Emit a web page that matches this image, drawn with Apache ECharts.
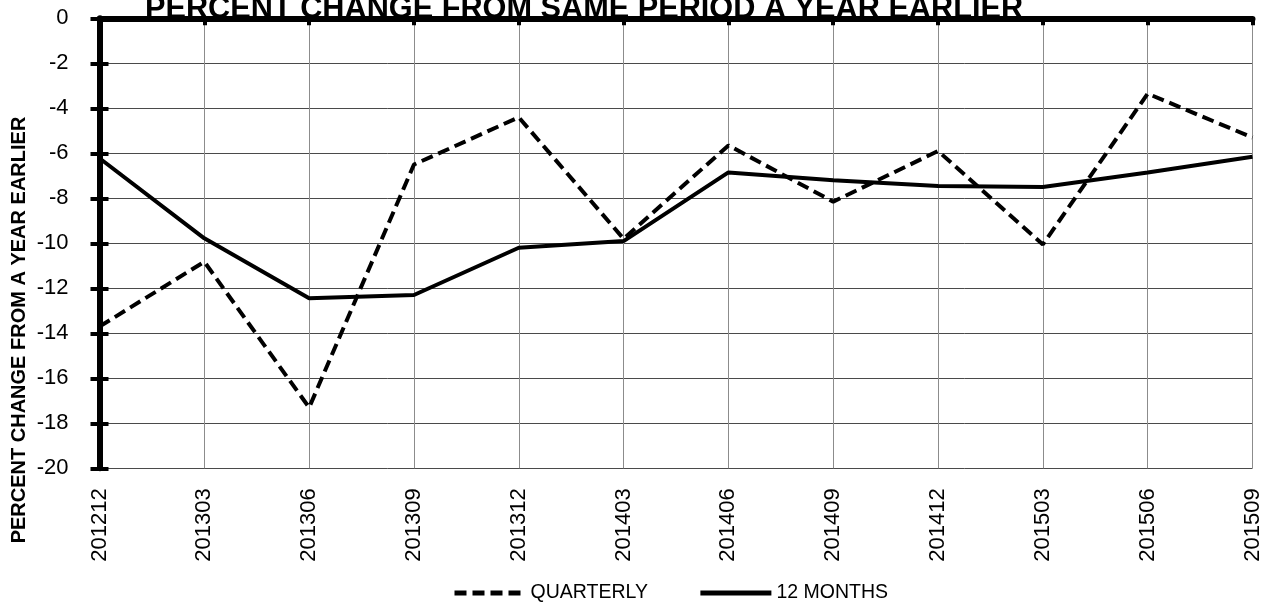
<!DOCTYPE html>
<html>
<head>
<meta charset="utf-8">
<script src="https://cdn.jsdelivr.net/npm/echarts@6/dist/echarts.min.js"></script>
<style>
    html, body { margin: 0; padding: 0; background: #fff; }
    #main { width: 1269px; height: 605px; }
</style>
</head>
<body>
<div id="main"></div>
<script>
var periods = ['201212', '201303', '201306', '201309', '201312', '201403', '201406', '201409', '201412', '201503', '201506', '201509'];
var quarterly = [-13.7, -10.82, -17.3, -6.5, -4.4, -9.8, -5.65, -8.15, -5.9, -10.05, -3.35, -5.3];
var twelveMonths = [-6.22, -9.78, -12.44, -12.3, -10.2, -9.9, -6.85, -7.2, -7.45, -7.5, -6.85, -6.15];

~function () {
    var myChart = echarts.init(document.getElementById('main'));
    var font = 'Liberation Sans, Arial, sans-serif';
    var option = {
        animation: false,
        title: {
            text: 'PERCENT CHANGE FROM SAME PERIOD A YEAR EARLIER',
            left: 145,
            top: -6,
            padding: 0,
            textStyle: {fontFamily: font, fontSize: 30.7, fontWeight: 'bold', color: '#000'}
        },
        graphic: [{
            type: 'text',
            x: 19,
            y: 330,
            rotation: Math.PI / 2,
            style: {
                text: 'PERCENT CHANGE FROM A YEAR EARLIER',
                font: 'bold 20px Liberation Sans, Arial, sans-serif',
                fill: '#000',
                align: 'center',
                verticalAlign: 'middle'
            }
        }],
        legend: {
            bottom: 2,
            left: 452,
            padding: 0,
            itemWidth: 71,
            itemHeight: 12,
            itemGap: 50,
            textStyle: {fontFamily: font, fontSize: 19.5, color: '#000'},
            itemStyle: {opacity: 0},
            lineStyle: {width: 5},
            data: ['QUARTERLY', '12 MONTHS']
        },
        grid: {left: 99.5, right: 16.5, top: 18.3, bottom: 136.7, containLabel: false},
        xAxis: [
            {
                type: 'category',
                position: 'bottom',
                boundaryGap: false,
                data: periods,
                axisLine: {show: false},
                axisTick: {show: false},
                axisLabel: {rotate: 90, margin: 20, fontFamily: font, fontSize: 22, color: '#000'},
                splitLine: {show: true, lineStyle: {color: '#8c8c8c', width: 1}}
            },
            {
                type: 'category',
                position: 'top',
                boundaryGap: false,
                data: periods,
                axisLine: {show: true, lineStyle: {color: '#000', width: 6}},
                axisTick: {show: true, inside: true, length: 7, lineStyle: {color: '#000', width: 4}},
                axisLabel: {show: false},
                splitLine: {show: false}
            }
        ],
        yAxis: [
            {
                type: 'value',
                min: -20,
                max: 0,
                interval: 2,
                axisLine: {show: true, lineStyle: {color: '#000', width: 6}},
                axisTick: {show: true, length: 9, lineStyle: {color: '#000', width: 4}},
                axisLabel: {margin: 31, fontFamily: font, fontSize: 22, color: '#000'},
                splitLine: {show: true, lineStyle: {color: '#4a4a4a', width: 1}}
            },
            {
                type: 'value',
                position: 'left',
                min: -20,
                max: 0,
                interval: 2,
                axisLine: {show: false},
                axisTick: {show: true, inside: true, length: 9, lineStyle: {color: '#000', width: 4}},
                axisLabel: {show: false},
                splitLine: {show: false}
            }
        ],
        series: [
            {
                name: 'QUARTERLY',
                type: 'line',
                symbol: 'none',
                data: quarterly,
                lineStyle: {color: '#000', width: 4, type: [12, 6]},
                itemStyle: {color: '#000'}
            },
            {
                name: '12 MONTHS',
                type: 'line',
                symbol: 'none',
                data: twelveMonths,
                lineStyle: {color: '#000', width: 4},
                itemStyle: {color: '#000'}
            }
        ]
    };
    myChart.setOption(option);
}();
</script>
</body>
</html>
